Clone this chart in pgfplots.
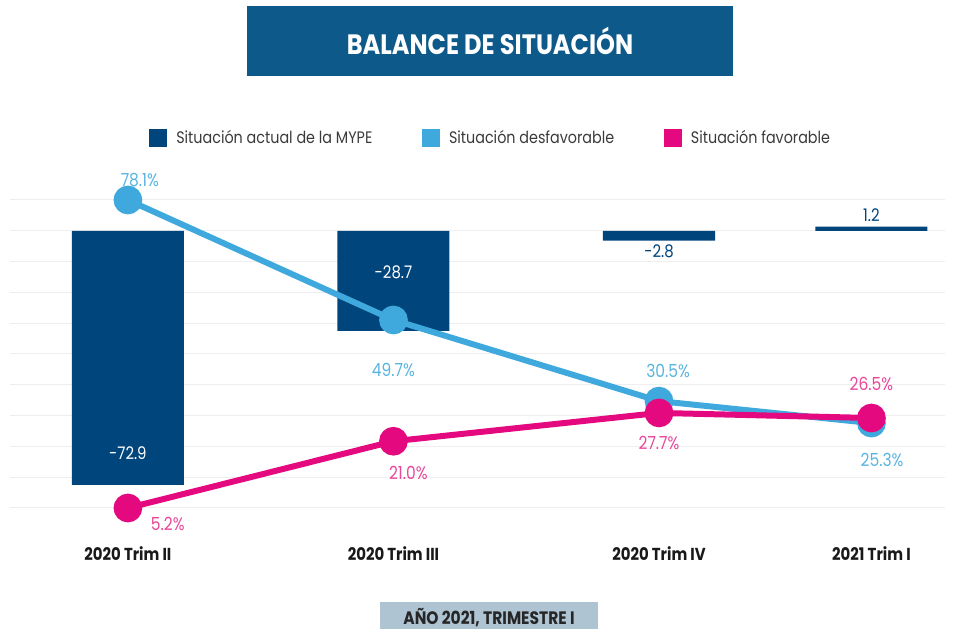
\documentclass[border=0pt]{standalone}
\usepackage{fontspec}
\setmainfont{Poppins}[FakeStretch=0.86]
\usepackage{pgfplots}
\pgfplotsset{compat=1.18}
\definecolor{darkbar}{HTML}{00457C}
\definecolor{lightblue}{HTML}{3FA9DD}
\definecolor{pinkline}{HTML}{E4097F}
\definecolor{titleblue}{HTML}{0D5A8A}
\definecolor{bottombox}{HTML}{AFC4D3}
\definecolor{gridgray}{HTML}{EEEEEE}
\definecolor{lbllight}{HTML}{5AB4E0}
\definecolor{lblpink}{HTML}{E8479A}
\definecolor{legtext}{HTML}{3A3A3A}
\begin{document}
\begin{tikzpicture}
\path (0pt,0pt) rectangle (717pt,471.75pt);
% title
\fill[titleblue] (185.25pt,414.75pt) rectangle (549.75pt,467.25pt);
\node[white,font=\bfseries\fontsize{21}{24}\selectfont] at (367.5pt,441pt) {BALANCE DE SITUACIÓN};
% bottom box
\fill[bottombox] (285pt,0pt) rectangle (448.5pt,20.25pt);
\node[anchor=base,text=black!85,font=\bfseries\fontsize{13.5}{15}\selectfont] at (366.75pt,3pt) {AÑO 2021, TRIMESTRE I};
% bar axis
\begin{axis}[
  at={(7.5pt,81.75pt)}, anchor=south west,
  width=701.25pt, height=247.5pt, scale only axis,
  xmin=-0.444, xmax=3.077,
  ymin=-83.01, ymax=11.71,
  axis line style={draw=none},
  major tick length=0pt,
  ytick={8.84,0,-8.84,-17.68,-26.52,-35.36,-44.2,-53.04,-61.88,-70.72,-79.56},
  yticklabels={},
  ymajorgrids, grid style={draw=gridgray, line width=0.75pt},
  xtick={0,1,2,2.8},
  xticklabels={2020 Trim II,2020 Trim III,2020 Trim IV,2021 Trim I},
  xticklabel style={anchor=base, yshift=-30.75pt, text=black!90, font=\bfseries\fontsize{13}{15}\selectfont},
  clip=false,
]
\addplot[ybar, bar width=0.422, fill=darkbar, draw=none] coordinates {(0,-72.9) (1,-28.7) (2,-2.8) (2.8,1.2)};
\begin{scope}[font=\fontsize{13}{15}\selectfont]
\node[white] at (axis cs:0,-63.78) {-72.9};
\node[white] at (axis cs:1,-11.83) {-28.7};
\node[darkbar] at (axis cs:2,-5.8) {-2.8};
\node[darkbar] at (axis cs:2.8,4.6) {1.2};
\end{scope}
\end{axis}
% line axis
\begin{axis}[
  at={(7.5pt,81.75pt)}, anchor=south west,
  width=701.25pt, height=247.5pt, scale only axis,
  xmin=-0.444, xmax=3.077,
  ymin=2.36, ymax=80.47,
  hide axis, clip=false,
  legend columns=3,
  legend image code/.code={\fill[#1] (0pt,-6.75pt) rectangle (13.5pt,6.75pt);},
  legend style={at={(0.1487,1.1576)}, anchor=west, draw=none, fill=none, inner sep=0pt,
    font=\fontsize{12.5}{14}\selectfont, text=legtext,
    /tikz/every even column/.append style={column sep=30.5pt},
    nodes={inner xsep=6.75pt, inner ysep=0pt}},
  legend cell align=left,
]
\addlegendimage{fill=darkbar, draw=none}
\addlegendentry{Situación actual de la MYPE}
\addlegendimage{fill=lightblue, draw=none}
\addlegendentry{Situación desfavorable}
\addlegendimage{fill=pinkline, draw=none}
\addlegendentry{Situación favorable}
\addplot[forget plot, lightblue, line width=4.5pt, mark=*, mark size=8.5pt, mark options={fill=lightblue, draw=none}] coordinates {(0,78.1) (1,49.7) (2,30.5) (2.8,25.3)};
\addplot[forget plot, pinkline, line width=4.5pt, mark=*, mark size=8.5pt, mark options={fill=pinkline, draw=none}] coordinates {(0,5.2) (1,21.0) (2,27.7) (2.8,26.5)};
\begin{scope}[font=\fontsize{13.5}{15}\selectfont]
\node[lbllight] at (axis cs:0.045,82.9) {78.1\%};
\node[lbllight] at (axis cs:1,37.86) {49.7\%};
\node[lbllight] at (axis cs:2.034,37.6) {30.5\%};
\node[lbllight] at (axis cs:2.84,16.6) {25.3\%};
\node[lblpink] at (axis cs:0.15,1.4) {5.2\%};
\node[lblpink] at (axis cs:1.056,13.6) {21.0\%};
\node[lblpink] at (axis cs:2,20.7) {27.7\%};
\node[lblpink] at (axis cs:2.8,34.5) {26.5\%};
\end{scope}
\end{axis}
\end{tikzpicture}
\end{document}
